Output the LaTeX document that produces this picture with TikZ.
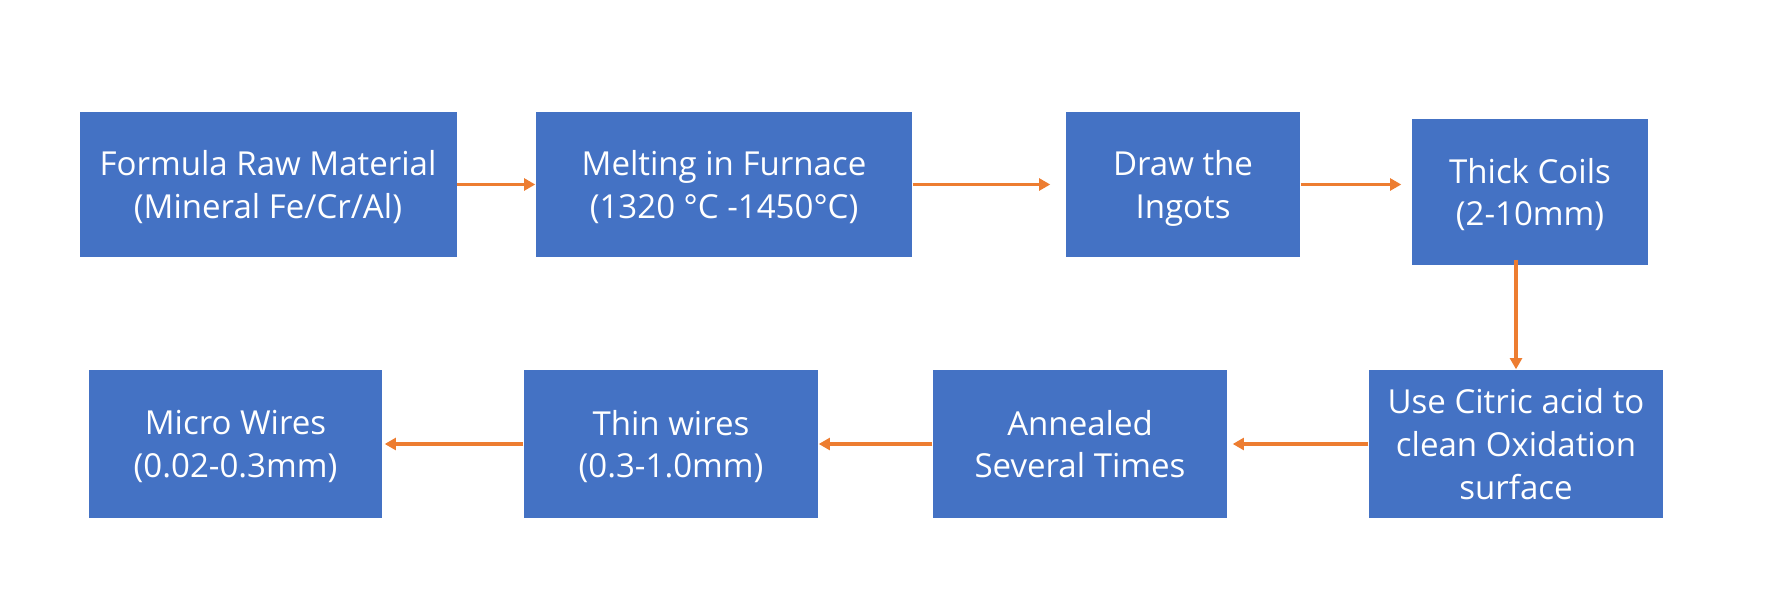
\documentclass[tikz,border=0pt]{standalone}
\usepackage{fontspec}
\setmainfont{Open Sans}
\usepackage{xcolor}
\usetikzlibrary{arrows.meta}
\definecolor{boxblue}{HTML}{4472C4}
\definecolor{arroworange}{HTML}{ED7D31}
\tikzset{
  stage/.style={fill=boxblue, text=white, inner sep=0pt, align=center,
    minimum height=1.45cm, font=\fontsize{9.4}{12.2}\selectfont,
    text depth=-0.6pt},
  flow/.style={draw=arroworange, line width=0.9pt,
    -{Triangle[width=3.4pt,length=3.2pt]}}
}
\begin{document}
\begin{tikzpicture}
			\useasboundingbox (0,0) rectangle (17.76,-6.07);
			% Fixed coordinates, first row
			\node (raw) at (2.68,-1.845) [stage, minimum width=3.77cm] {Formula Raw Material\\(Mineral Fe/Cr/Al)};
			\node (melt) at (7.24,-1.845) [stage, minimum width=3.76cm] {Melting in Furnace\\(1320 °C -1450°C)};
			\node (ingot) at (11.83,-1.845) [stage, minimum width=2.34cm] {Draw the\\Ingots};
			\node (coil) at (15.30,-1.92) [stage, minimum width=2.36cm, minimum height=1.46cm] {Thick Coils\\(2-10mm)};
			
			% Second row
			\node (clean) at (15.16,-4.44) [stage, minimum width=2.94cm, minimum height=1.48cm] {Use Citric acid to\\clean Oxidation\\surface};
			\node (anneal) at (10.80,-4.44) [stage, minimum width=2.94cm, minimum height=1.48cm] {Annealed\\Several Times};
			\node (thin) at (6.71,-4.44) [stage, minimum width=2.94cm, minimum height=1.48cm] {Thin wires\\(0.3-1.0mm)};
			\node (micro) at (2.355,-4.44) [stage, minimum width=2.93cm, minimum height=1.48cm] {Micro Wires\\(0.02-0.3mm)};
			
			% Arrows
			\draw[flow] (raw) -- (melt);
			\draw[flow, shorten >=0.15cm] (melt) -- (ingot);
			\draw[flow, shorten >=0.1cm] (ingot.east) -- (ingot.east -| coil.west);
			\draw[flow, shorten <=-0.06cm] (coil.south -| clean.north) -- (clean.north);
			\draw[flow, shorten >=0.05cm] (clean) -- (anneal);
			\draw[flow] (anneal) -- (thin);
			\draw[flow, shorten >=0.02cm] (thin) -- (micro);
		\end{tikzpicture}
\end{document}
